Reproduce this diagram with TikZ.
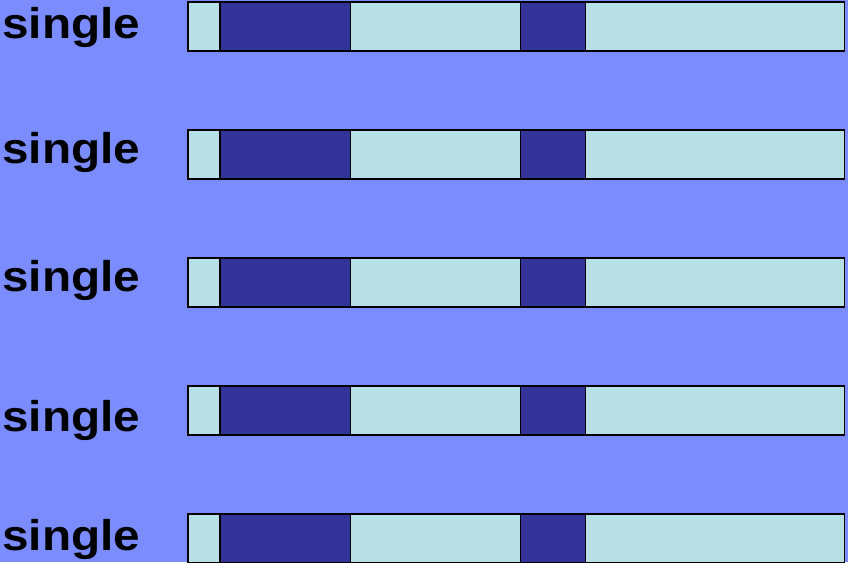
\documentclass[tikz,border=0pt]{standalone}
\usepackage{fontspec}
\setmainfont{Liberation Sans}
\definecolor{bgblue}{RGB}{123,140,255}
\definecolor{lightseg}{RGB}{184,224,228}
\definecolor{darkseg}{RGB}{51,51,153}
\tikzset{
  lbl/.style={anchor=base west, inner sep=0pt, font=\bfseries\fontsize{43}{46}\selectfont, xscale=1.11},
  lseg/.style={fill=lightseg, draw=black, line width=1.5pt},
  dseg/.style={fill=darkseg, draw=black, line width=1.5pt}
}
\begin{document}
\begin{tikzpicture}[x=1pt,y=-1pt]
\fill[bgblue] (0,0) rectangle (848,562);
\useasboundingbox (0,0) rectangle (848,562);
\foreach \i/\top/\base in {1/2/38,2/130/163,3/258/291,4/386/431,5/514/550}{
  \node[lbl] (label\i) at (2,\base) {single};
  \pgfmathsetmacro{\bot}{\top+49}
  \draw[lseg] (188,\top) rectangle (220,\bot);
  \draw[dseg] (220,\top) rectangle (350.5,\bot);
  \draw[lseg] (350.5,\top) rectangle (520.5,\bot);
  \draw[dseg] (520.5,\top) rectangle (585.5,\bot);
  \draw[lseg] (585.5,\top) rectangle (844.5,\bot);
}
\end{tikzpicture}
\end{document}
